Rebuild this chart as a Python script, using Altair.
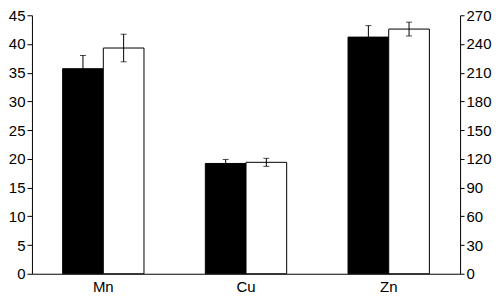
import altair as alt
import pandas as pd

categories = ["Mn", "Cu", "Zn"]
series = ["A", "B"]
values_a = [35.7, 19.2, 41.2]
errors_a = [2.3, 0.7, 2.0]
values_b = [39.3, 19.4, 42.6]
errors_b = [2.4, 0.7, 1.2]
right_ticks = [0, 30, 60, 90, 120, 150, 180, 210, 240, 270]

rows = []
for i, c in enumerate(categories):
    rows.append({"cat": c, "s": "A", "v": values_a[i], "lo": values_a[i] - errors_a[i], "hi": values_a[i] + errors_a[i]})
    rows.append({"cat": c, "s": "B", "v": values_b[i], "lo": values_b[i] - errors_b[i], "hi": values_b[i] + errors_b[i]})
df = pd.DataFrame(rows)
rdf = pd.DataFrame({"r": right_ticks})

FONT = "Liberation Sans"
FS = 15

xenc = alt.X("cat:N", sort=categories, title=None,
             scale=alt.Scale(paddingInner=0.43, paddingOuter=0.215),
             axis=alt.Axis(labelAngle=0, ticks=False, domainColor="black",
                           labelColor="black", labelFont=FONT, labelFontSize=FS, labelPadding=6))
xoff = alt.XOffset("s:N", sort=series)
yscale = alt.Scale(domain=[0, 45])
yaxis = alt.Axis(values=list(range(0, 50, 5)), grid=False, domainColor="black", tickColor="black",
                 labelColor="black", labelFont=FONT, labelFontSize=FS, tickSize=5, labelPadding=2)

bars = alt.Chart(df).mark_bar(stroke="black", strokeWidth=1).encode(
    x=xenc, xOffset=xoff,
    y=alt.Y("v:Q", scale=yscale, axis=yaxis, title=None),
    fill=alt.Fill("s:N", scale=alt.Scale(domain=series, range=["black", "white"]), legend=None),
)
rules = alt.Chart(df).mark_rule(color="black", strokeWidth=1).encode(
    x=xenc, xOffset=xoff,
    y=alt.Y("lo:Q", scale=yscale, axis=yaxis, title=None), y2="hi:Q",
)
caps_hi = alt.Chart(df).mark_tick(color="black", thickness=1, size=6).encode(
    x=xenc, xOffset=xoff, y=alt.Y("hi:Q", scale=yscale, axis=yaxis, title=None),
)
caps_lo = alt.Chart(df).mark_tick(color="black", thickness=1, size=6).encode(
    x=xenc, xOffset=xoff, y=alt.Y("lo:Q", scale=yscale, axis=yaxis, title=None),
)
left = alt.layer(bars, rules, caps_hi, caps_lo)

right = alt.Chart(rdf).mark_point(opacity=0).encode(
    y=alt.Y("r:Q", scale=alt.Scale(domain=[0, 270]), title=None,
            axis=alt.Axis(orient="right", values=right_ticks, grid=False, domainColor="black",
                          tickColor="black", labelColor="black", labelFont=FONT, labelFontSize=FS,
                          tickSize=4, labelPadding=2)),
)

chart = alt.layer(left, right).resolve_scale(y="independent").properties(
    width=429, height=259, padding=0
).configure_view(stroke=None)

chart.save("out.html", embed_options={"renderer": "svg", "actions": False})
